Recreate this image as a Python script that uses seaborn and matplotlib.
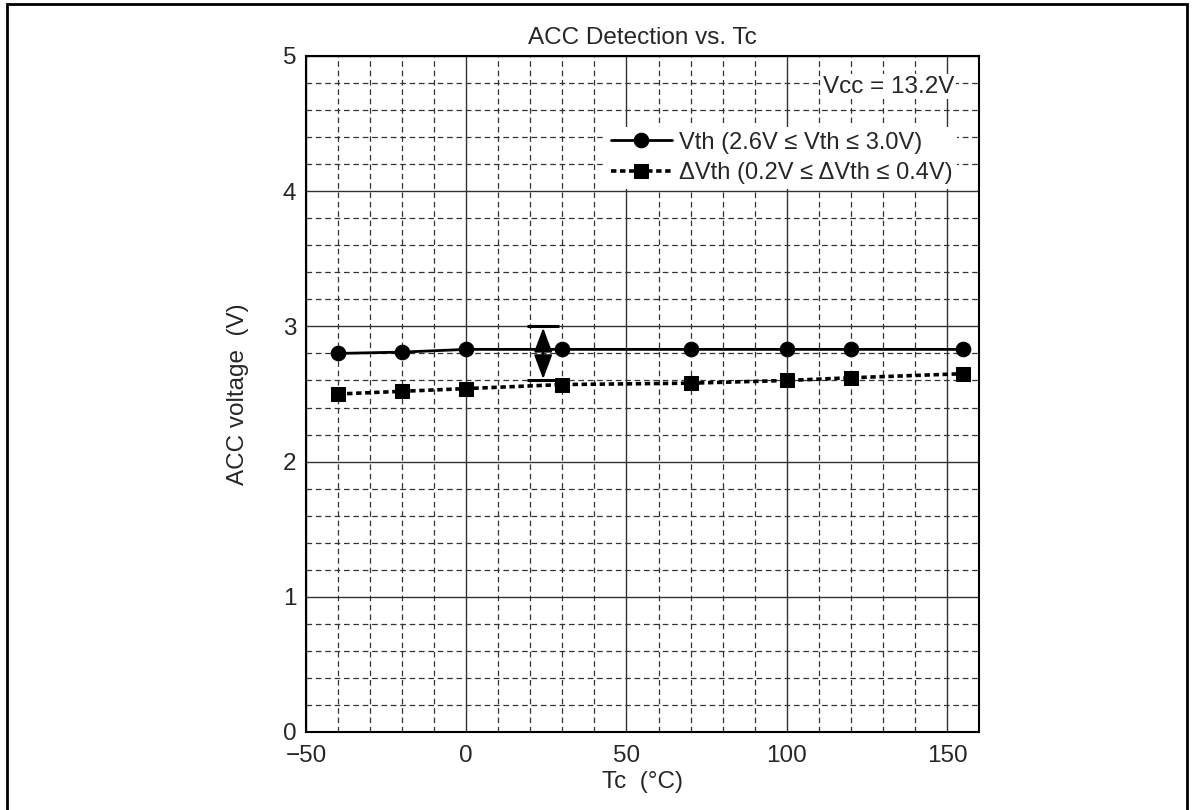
import matplotlib
matplotlib.use('Agg')
import matplotlib.pyplot as plt
from matplotlib.patches import Rectangle
from matplotlib.ticker import MultipleLocator
import seaborn as sns
import pandas as pd

# data
tc = [-40, -20, 0, 30, 70, 100, 120, 155]
vth = [2.80, 2.81, 2.83, 2.83, 2.83, 2.83, 2.83, 2.83]
dvth = [2.50, 2.52, 2.54, 2.57, 2.58, 2.60, 2.62, 2.65]
label_vth = 'Vth (2.6V \u2264 Vth \u2264 3.0V)'
label_dvth = '\u0394Vth (0.2V \u2264 \u0394Vth \u2264 0.4V)'
arrow_x = 24
arrow_range = [2.6, 3.0]
arrow_cap = [19, 29]
x_ticks = [-50, 0, 50, 100, 150]
y_ticks = [0, 1, 2, 3, 4, 5]

df = pd.DataFrame({'Tc': tc, 'Vth': vth, 'dVth': dvth})

sns.set_style('white')
plt.rcParams['font.family'] = ['Liberation Sans', 'DejaVu Sans']
plt.rcParams['axes.unicode_minus'] = True
FS = 17.5

fig = plt.figure(figsize=(11.94, 8.10), dpi=100)
W, H = 1194, 810
ax = fig.add_axes([306 / W, (H - 732) / H, 673 / W, 676 / H])

sns.lineplot(data=df, x='Tc', y='Vth', ax=ax, color='black', linewidth=2,
             marker='o', markersize=10.5, markeredgecolor='black', label=label_vth, zorder=4)
sns.lineplot(data=df, x='Tc', y='dVth', ax=ax, color='black', linewidth=2.6,
             marker='s', markersize=10.5, markeredgecolor='black', label=label_dvth, zorder=4)
ax.lines[1].set_linestyle((0, (1.5, 1.0)))

ax.set_xlim(-50, 160)
ax.set_ylim(0, 5)
ax.set_xticks(x_ticks)
ax.set_yticks(y_ticks)
ax.xaxis.set_minor_locator(MultipleLocator(10))
ax.yaxis.set_minor_locator(MultipleLocator(0.2))
ax.grid(True, which='major', color='#333333', linewidth=1.0, linestyle='-')
ax.grid(True, which='minor', color='#333333', linewidth=0.9, linestyle=(0, (4.5, 3)))
ax.set_axisbelow(True)
ax.tick_params(which='both', length=0, labelsize=FS)
ax.tick_params(axis='x', pad=9)
ax.tick_params(axis='y', pad=7)
for s in ax.spines.values():
    s.set_color('black')
    s.set_linewidth(1.5)

ax.set_title('ACC Detection vs. Tc', fontsize=FS, pad=9)
ax.set_xlabel('Tc  (\u00b0C)', fontsize=FS, labelpad=3)
ax.set_ylabel('ACC voltage  (V)', fontsize=FS, labelpad=24)

# range arrow with caps
ax.hlines(arrow_range, arrow_cap[0], arrow_cap[1], color='black', linewidth=2.2, zorder=5)
ax.annotate('', xy=(arrow_x, arrow_range[1]), xytext=(arrow_x, arrow_range[0]),
            arrowprops=dict(arrowstyle='<|-|>,head_length=0.75,head_width=0.28',
                            mutation_scale=20, color='black', lw=1.5,
                            shrinkA=1, shrinkB=1), zorder=5)

ax.text(0.963, 0.9545, 'Vcc = 13.2V', transform=ax.transAxes, ha='right', va='center',
        fontsize=FS, bbox=dict(facecolor='white', edgecolor='none', pad=1), zorder=6)

leg = ax.legend(loc='upper right', bbox_to_anchor=(0.968, 0.895), fontsize=17,
                frameon=True, facecolor='white', edgecolor='none', framealpha=1,
                fancybox=False, handlelength=2.6, handletextpad=0.3, labelspacing=0.35,
                borderpad=0.2, borderaxespad=0)
leg.set_zorder(6)

# outer frame
fig.patches.append(Rectangle((7 / W, -0.01), 1180 / W, 1.01 - 4 / H, transform=fig.transFigure,
                             fill=False, edgecolor='black', linewidth=2))

fig.savefig('out.png', dpi=100)
